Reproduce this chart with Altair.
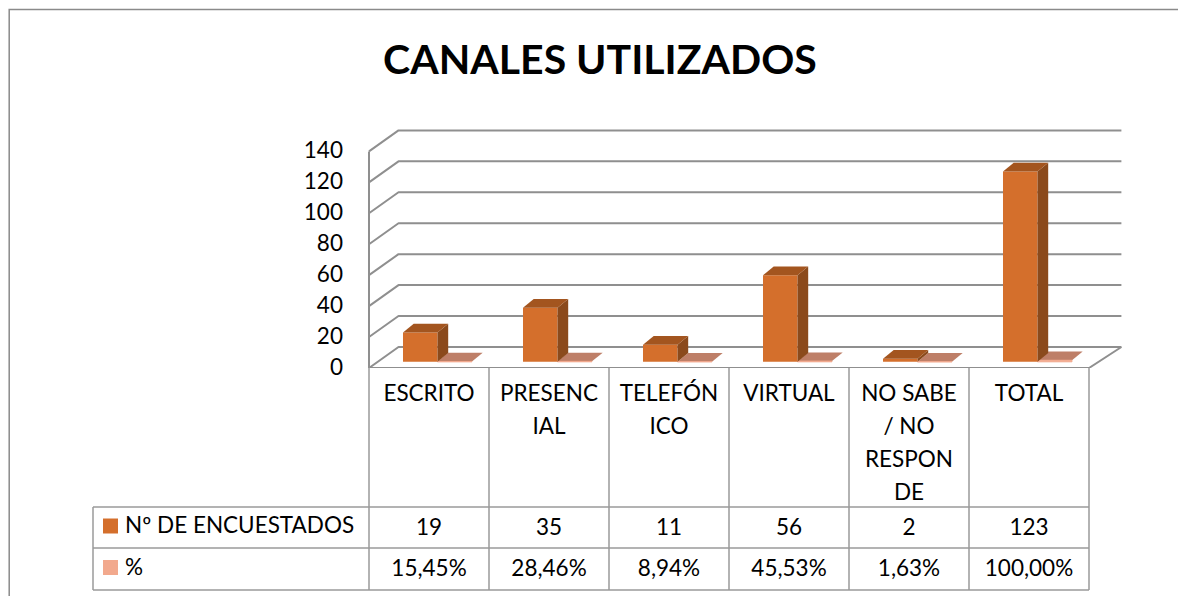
import altair as alt
import pandas as pd

# ---------------- data ----------------
categories = ["ESCRITO", "PRESENCIAL", "TELEFÓNICO", "VIRTUAL", "NO SABE / NO RESPONDE", "TOTAL"]
header_lines = [["ESCRITO"], ["PRESENC", "IAL"], ["TELEFÓN", "ICO"], ["VIRTUAL"],
                ["NO SABE", "/ NO", "RESPON", "DE"], ["TOTAL"]]
encuestados = [19, 35, 11, 56, 2, 123]
porcentaje = [15.45, 28.46, 8.94, 45.53, 1.63, 100.00]
series_names = ["Nº DE ENCUESTADOS", "%"]
y_ticks = [0, 20, 40, 60, 80, 100, 120, 140]
title_text = "CANALES UTILIZADOS"

# ---------------- layout / style constants ----------------
PX_U = 120.0            # px per category column
W, H1, H2 = 1170, 360, 228
X0 = -3.00833
X1 = X0 + W / PX_U
PX_V = 1.547            # px per value unit
Y1 = H1 / PX_V
BASE = 4.0
BAR_L, BAR_W = 34 / PX_U, 34.5 / PX_U
DDX, DDY = 10.7 / PX_U, 8.7 / PX_V
WALL_DX, WALL_DY = 29.5 / PX_U, 21 / PX_V
WALL_R = 6.27
FONT = "Lato"
FS = 22.5
C_FRONT, C_SIDE, C_TOP = "#D46F2C", "#8B4A1C", "#A3551F"
C_PCT_TOP, C_PCT = "#BE7F68", "#F2A98D"
C_GRID = "#8F8F8F"
C_LINE = "#9A9A9A"

xs = alt.Scale(domain=[X0, X1], nice=False, zero=False)
ys = alt.Scale(domain=[0, Y1], nice=False, zero=False)
ncat = len(categories)

# ---------------- 3D plot ----------------
grid_rows = []
for t in y_ticks:
    pts = [(0, t), (WALL_DX, t + WALL_DY), (WALL_R, t + WALL_DY)]
    for k, (x, y) in enumerate(pts):
        grid_rows.append({"g": f"t{t}", "o": k, "x": x, "y": y})
for k, (x, y) in enumerate([(0, 0), (ncat, 0), (WALL_R, WALL_DY)]):
    grid_rows.append({"g": "floor", "o": k, "x": x, "y": y})
for k, (x, y) in enumerate([(0, 0), (0, max(y_ticks))]):
    grid_rows.append({"g": "edge", "o": k, "x": x, "y": y})
grid_df = pd.DataFrame(grid_rows)

enc_x = alt.X("x:Q", scale=xs, axis=None)
enc_y = alt.Y("y:Q", scale=ys, axis=None)

grid = alt.Chart(grid_df).mark_line(color=C_GRID, strokeWidth=2, strokeJoin="round", clip=True).encode(
    x=enc_x, y=enc_y, detail="g:N", order="o:Q")

front, side, top, pfront, ptop = [], [], [], [], []
for i, (c, v, p) in enumerate(zip(categories, encuestados, porcentaje)):
    xl = i + BAR_L
    xr = xl + BAR_W
    front.append({"c": c, "x": xl, "x2": xr, "y": BASE, "y2": BASE + v})
    side.append({"c": c, "x": xr, "y": BASE, "y2": BASE + v})
    side.append({"c": c, "x": xr + DDX, "y": BASE + DDY, "y2": BASE + v + DDY})
    top.append({"c": c, "y": BASE + v, "x": xl, "x2": xr})
    top.append({"c": c, "y": BASE + v + DDY, "x": xl + DDX, "x2": xr + DDX})
    pl, pr = xr, xr + BAR_W
    pv = BASE + p / 100.0
    pfront.append({"c": c, "x": pl, "x2": pr, "y": BASE, "y2": pv})
    ptop.append({"c": c, "y": pv, "x": pl, "x2": pr})
    ptop.append({"c": c, "y": pv + DDY, "x": pl + DDX, "x2": pr + DDX})

pct_top = alt.Chart(pd.DataFrame(ptop)).mark_area(orient="horizontal", color=C_PCT_TOP).encode(
    y=enc_y, x=enc_x, x2="x2:Q", detail="c:N")
pct_front = alt.Chart(pd.DataFrame(pfront)).mark_rect(color=C_PCT, stroke=C_PCT, strokeWidth=1).encode(
    x=enc_x, x2="x2:Q", y=enc_y, y2="y2:Q")
bar_front = alt.Chart(pd.DataFrame(front)).mark_rect(color=C_FRONT).encode(
    x=enc_x, x2="x2:Q", y=enc_y, y2="y2:Q")
bar_side = alt.Chart(pd.DataFrame(side)).mark_area(orient="vertical", color=C_SIDE).encode(
    x=enc_x, y=enc_y, y2="y2:Q", detail="c:N")
bar_top = alt.Chart(pd.DataFrame(top)).mark_area(orient="horizontal", color=C_TOP).encode(
    y=enc_y, x=enc_x, x2="x2:Q", detail="c:N")

ylab = alt.Chart(pd.DataFrame({"t": y_ticks, "x": [-0.217] * len(y_ticks)})).mark_text(
    font=FONT, fontSize=FS, align="right", baseline="middle", color="#000").encode(
    x=enc_x, y=alt.Y("t:Q", scale=ys, axis=None), text="t:Q")

title = alt.Chart(pd.DataFrame({"x": [1.925], "y": [197.8], "s": [title_text]})).mark_text(
    font=FONT, fontSize=41, fontWeight="bold", align="center", baseline="middle", color="#000").encode(
    x=enc_x, y=enc_y, text="s:N")

frame_top = alt.Chart(pd.DataFrame([
    {"o": 0, "x": X0 + 0.01, "y": 0}, {"o": 1, "x": X0 + 0.01, "y": 231.7}, {"o": 2, "x": X1, "y": 231.7}
])).mark_line(color="#8A8A8A", strokeWidth=1.5, clip=True).encode(x=enc_x, y=enc_y, order="o:Q")

top_chart = alt.layer(grid, pct_top, pct_front, bar_front, bar_side, bar_top, ylab, title, frame_top
                      ).properties(width=W, height=H1)

# ---------------- data table ----------------
ys2 = alt.Scale(domain=[0, H2], reverse=True, nice=False, zero=False)
ex = alt.X("x:Q", scale=xs, axis=None)
ey = alt.Y("y:Q", scale=ys2, axis=None)

HDR, R1, R2 = 139, 180, 222
LEG_L = -2.3
lines = []
for i in range(ncat + 1):
    lines.append({"x": i, "x2": i, "y": 0, "y2": R2})
lines.append({"x": LEG_L, "x2": LEG_L, "y": HDR, "y2": R2})
for yy in (HDR, R1, R2):
    lines.append({"x": LEG_L, "x2": ncat, "y": yy, "y2": yy})
table_lines = alt.Chart(pd.DataFrame(lines)).mark_rule(color=C_LINE, strokeWidth=1.5).encode(
    x=ex, x2="x2:Q", y=ey, y2="y2:Q")

hdr_rows = []
for i, ls in enumerate(header_lines):
    for k, s in enumerate(ls):
        hdr_rows.append({"x": i + 0.5, "y": 26 + 33 * k, "s": s})
hdr_text = alt.Chart(pd.DataFrame(hdr_rows)).mark_text(
    font=FONT, fontSize=FS, align="center", baseline="middle", color="#000").encode(
    x=ex, y=ey, text="s:N")

r1y, r2y = (HDR + R1) / 2, (R1 + R2) / 2
val_rows = []
for i, (v, p) in enumerate(zip(encuestados, porcentaje)):
    val_rows.append({"x": i + 0.5, "y": r1y, "s": str(v)})
    val_rows.append({"x": i + 0.5, "y": r2y, "s": f"{p:.2f}".replace(".", ",") + "%"})
val_text = alt.Chart(pd.DataFrame(val_rows)).mark_text(
    font=FONT, fontSize=FS, align="center", baseline="middle", color="#000").encode(
    x=ex, y=ey, text="s:N")

leg_df = pd.DataFrame({"x": [-2.154, -2.154], "xt": [-2.033, -2.033], "y": [r1y - 1.5, r2y - 1.5],
                       "s": series_names, "col": [C_FRONT, C_PCT]})
leg_sq = alt.Chart(leg_df).mark_square(size=225, opacity=1).encode(
    x=ex, y=ey, color=alt.Color("col:N", scale=None))
leg_txt = alt.Chart(leg_df).mark_text(
    font=FONT, fontSize=FS, align="left", baseline="middle", color="#000").encode(
    x=alt.X("xt:Q", scale=xs, axis=None), y=ey, text="s:N")

frame_left = alt.Chart(pd.DataFrame({"x": [X0 + 0.01], "y": [0], "y2": [H2]})).mark_rule(
    color="#8A8A8A", strokeWidth=1.5, clip=True).encode(x=ex, y=ey, y2="y2:Q")

table_chart = alt.layer(table_lines, hdr_text, val_text, leg_sq, leg_txt, frame_left
                        ).properties(width=W, height=H2)

chart = alt.vconcat(top_chart, table_chart, spacing=0, bounds="flush").properties(
    padding=0).configure_view(stroke=None)

chart.save("out.html", embed_options={"renderer": "svg", "actions": False})
